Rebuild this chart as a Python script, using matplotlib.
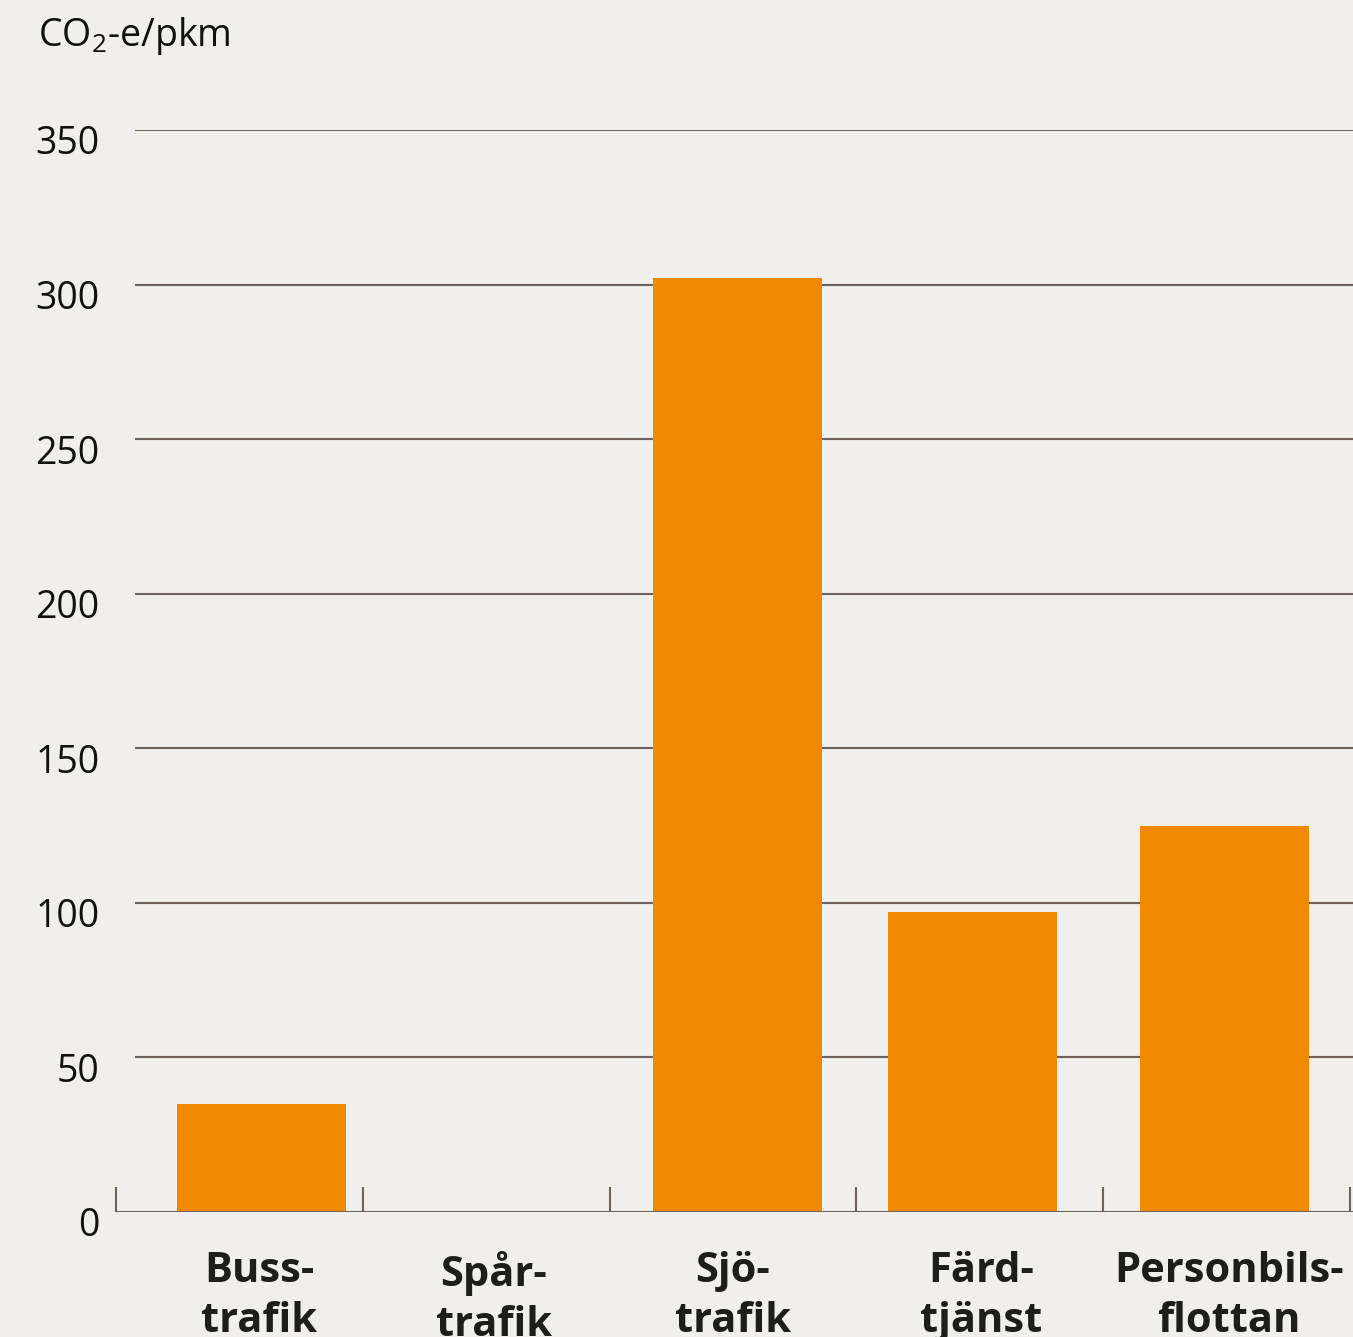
import numpy as np
import matplotlib
matplotlib.use("Agg")
import matplotlib.pyplot as plt
import matplotlib.transforms as mtransforms
from matplotlib.ticker import FixedLocator

# Emissions per passenger-km by mode of transport
categories = ["Buss-\ntrafik", "Spår-\ntrafik", "Sjö-\ntrafik", "Färd-\ntjänst", "Personbils-\nflottan"]
values = [35, 0, 302, 97, 125]
yticks = [0, 50, 100, 150, 200, 250, 300, 350]

# small horizontal nudges of bars and labels within their slots
bar_nudge = [0.09, 0.0, 0.02, -0.03, -0.01]
label_nudge = [0.08, 0.03, 0.0, 0.005, 0.01]

bg = "#f0efeb"
bar_color = "#f28a00"
line_color = "#6e625c"

plt.rcParams["font.family"] = ["Open Sans", "DejaVu Sans"]
plt.rcParams["mathtext.default"] = "regular"

fig = plt.figure(figsize=(13.53, 13.37), dpi=100, facecolor=bg)
ax = fig.add_axes([0.0857, 0.0935, 0.9143, 0.8093], facecolor=bg)

x = np.arange(len(categories))
ax.bar(x + np.array(bar_nudge), values, width=0.685, color=bar_color, zorder=3)

ax.set_xlim(-0.5, len(categories) - 0.5 + 0.012)
ax.set_ylim(0, 350)

# horizontal grid lines, starting a little right of the axis origin
for v in yticks[1:]:
    ax.axhline(v, xmin=0.016, xmax=1, color=line_color, lw=1.5, zorder=1)
ax.axhline(0, color=line_color, lw=1.5, zorder=4)

for s in ax.spines.values():
    s.set_visible(False)

ax.set_yticks(yticks)
ax.set_yticklabels([str(v) for v in yticks], fontsize=27)
ax.tick_params(axis="y", length=0, pad=12, labelcolor="#111111")
shift = mtransforms.ScaledTranslation(0, -10 / 100, fig.dpi_scale_trans)
for lab in ax.get_yticklabels():
    lab.set_transform(lab.get_transform() + shift)

# category labels under each slot, separator ticks between categories
ax.set_xticks(x + np.array(label_nudge))
ax.set_xticklabels(categories, fontsize=30, fontweight="bold", color="#1d1d1b",
                   linespacing=1.3)
ax.tick_params(axis="x", which="major", length=0, pad=28)
ax.xaxis.set_minor_locator(FixedLocator(np.arange(-0.5, len(categories))))
ax.tick_params(axis="x", which="minor", direction="in", length=18, width=1.5,
               color=line_color, top=False, bottom=True)

fig.text(0.028, 0.957, r"CO$_2$-e/pkm", fontsize=27, color="#111111", va="bottom")

fig.savefig("out.png", dpi=100, facecolor=bg)
